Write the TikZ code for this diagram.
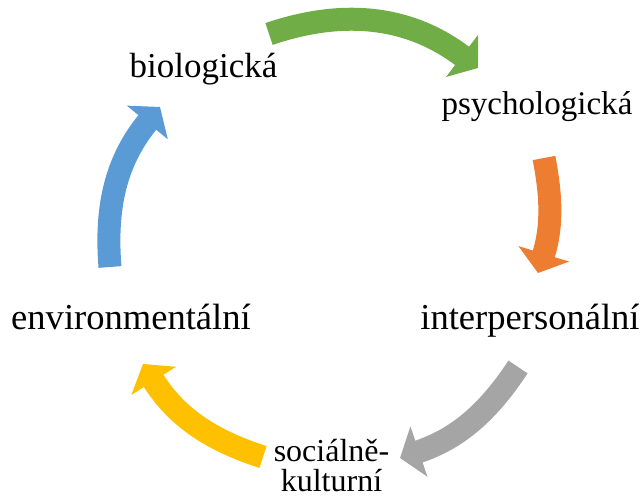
\documentclass[tikz,border=0pt]{standalone}
\usepackage{fontspec}
\setmainfont{Liberation Serif}
\usetikzlibrary{arrows.meta}
\definecolor{cycgreen}{HTML}{70AD47}
\definecolor{cycorange}{HTML}{ED7D31}
\definecolor{cycgray}{HTML}{A5A5A5}
\definecolor{cycyellow}{HTML}{FFC000}
\definecolor{cycblue}{HTML}{5B9BD5}

\begin{document}
\begin{tikzpicture}[line join=round,
    cycarrow/.style={line width=0.46cm, -{Triangle[length=0.4cm, width=1.04cm]}},
    cyctext/.style={font=\fontsize{#1}{17}\selectfont, anchor=base, align=center, inner sep=0pt},
    cyctext/.default=19.9]
    \useasboundingbox (0,0) rectangle (12.86,10);

    % the five parts of the cycle
    \node[cyctext]       (bio)   at (4.07,8.44)  {biologická};
    \node[cyctext=18.8]  (psych) at (10.74,7.7)  {psychologická};
    \node[cyctext=20.8]  (inter) at (10.6,3.4)   {interpersonální};
    \node[cyctext=18.2]  (soc)   at (6.63,0.17)  {sociálně-\\kulturní};
    \node[cyctext=20.8]  (env)   at (2.62,3.4)   {environmentální};

    % ends of the arrows
    \coordinate (g1) at (5.38,9.32);  \coordinate (g2) at (9.56,8.64);
    \coordinate (o1) at (10.88,6.84); \coordinate (o2) at (10.76,4.54);
    \coordinate (r1) at (10.36,2.66); \coordinate (r2) at (8.0,0.84);
    \coordinate (y1) at (5.26,0.86);  \coordinate (y2) at (2.86,2.72);
    \coordinate (b1) at (2.2,4.66);   \coordinate (b2) at (3.2,7.86);

    % arrows round the circle
    \draw[cycarrow, cycgreen]  (g1) to[bend left=28] (g2);
    \draw[cycarrow, cycorange] (o1) to[bend left=14] (o2);
    \draw[cycarrow, cycgray]   (r1) to[bend left=19] (r2);
    \draw[cycarrow, cycyellow] (y1) to[bend left=20] (y2);
    \draw[cycarrow, cycblue]   (b1) to[bend left=22] (b2);
\end{tikzpicture}
\end{document}
